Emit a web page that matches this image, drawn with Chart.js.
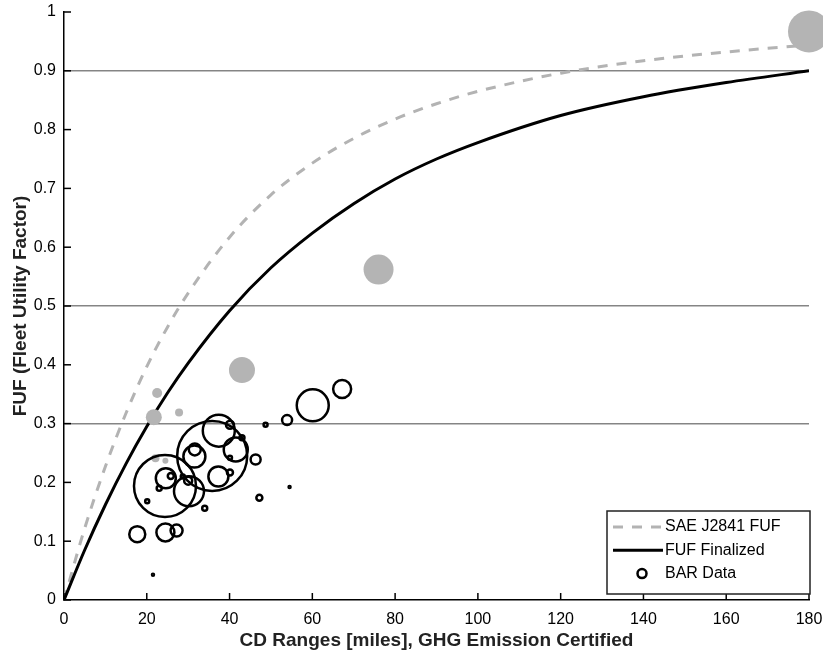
<!DOCTYPE html>
<html lang="en">
<head>
<meta charset="UTF-8">
<script src="https://cdn.jsdelivr.net/npm/chart.js"></script>
<title>FUF vs CD Range</title>
<style>
  body { margin: 0; background: #fff; }
</style>
</head>
<body>
<div style="width: 823px; height: 653px;">
  <canvas id="fufChart" width="823" height="653"></canvas>
</div>
<script>
// curve samples (CD range in miles -> FUF)
const curveMiles = [0, 5, 10, 15, 20, 25, 30, 40, 50, 60, 70, 80, 90, 100, 120, 140, 160, 180];
const saeFuf = [0, 0.122, 0.227, 0.318, 0.397, 0.464, 0.522, 0.617, 0.689, 0.743, 0.785, 0.818, 0.844, 0.865, 0.896, 0.917, 0.932, 0.944];
const finalFuf = [0, 0.085, 0.162, 0.232, 0.295, 0.352, 0.403, 0.492, 0.565, 0.624, 0.674, 0.716, 0.750, 0.778, 0.824, 0.856, 0.880, 0.900];

// BAR data bubbles (open circles)
const barX = [24.4, 35.8, 37.4, 41.5, 31.5, 31.6, 30.2, 24.6, 25.8, 23.0, 20.1, 28.7, 30.0, 37.3, 40.1,
              40.1, 43.0, 40.1, 46.3, 34.0, 47.2, 54.5, 48.7, 53.9, 60.1, 67.2, 17.7, 24.5, 27.2, 21.5];
const barY = [0.194, 0.245, 0.288, 0.256, 0.244, 0.256, 0.185, 0.207, 0.211, 0.190, 0.168, 0.210, 0.203, 0.210, 0.217,
              0.242, 0.276, 0.298, 0.239, 0.156, 0.174, 0.192, 0.298, 0.306, 0.331, 0.359, 0.112, 0.115, 0.118, 0.043];
const barSize = [31, 35, 16, 12, 11, 6, 15, 10, 3, 2.5, 2, 2, 4, 10, 3,
                 2, 2.5, 4, 5, 2.5, 3, 1, 2, 5, 16, 9, 8, 9, 6, 1];

// grey filled bubbles
const greyX = [180, 76, 43, 21.7, 22.5, 27.8, 22.1, 24.5];
const greyY = [0.967, 0.562, 0.391, 0.311, 0.352, 0.319, 0.241, 0.237];
const greySize = [21, 15, 13, 8, 5, 4, 4, 3];

const gridLevels = [0.3, 0.5, 0.9];
const FONT = 'Arial, "Liberation Sans", sans-serif';

const toPts = (xs, ys) => xs.map((x, i) => ({x: x, y: ys[i]}));
const toBubbles = (xs, ys, rs) => xs.map((x, i) => ({x: x, y: ys[i], r: rs[i]}));

// inward tick marks, like the original
const innerTicks = {
    id: 'innerTicks',
    afterDraw(chart) {
        const {ctx, chartArea, scales} = chart;
        ctx.save();
        ctx.strokeStyle = '#000';
        ctx.lineWidth = 1.5;
        scales.x.ticks.forEach(t => {
            const px = scales.x.getPixelForValue(t.value);
            ctx.beginPath();
            ctx.moveTo(px, chartArea.bottom);
            ctx.lineTo(px, chartArea.bottom - 7);
            ctx.stroke();
        });
        scales.y.ticks.forEach(t => {
            const py = scales.y.getPixelForValue(t.value);
            ctx.beginPath();
            ctx.moveTo(chartArea.left, py);
            ctx.lineTo(chartArea.left + 7, py);
            ctx.stroke();
        });
        ctx.restore();
    }
};

// boxed legend in the lower right corner
const boxLegend = {
    id: 'boxLegend',
    afterDraw(chart) {
        const {ctx, chartArea} = chart;
        const ds = chart.data.datasets.filter(d => d.label);
        const x0 = chartArea.right - 202, y0 = chartArea.bottom - 89;
        const w = 203, h = 83;
        ctx.save();
        ctx.fillStyle = '#fff';
        ctx.fillRect(x0, y0, w, h);
        ctx.strokeStyle = '#222';
        ctx.lineWidth = 1.5;
        ctx.strokeRect(x0, y0, w, h);
        ctx.font = '16px ' + FONT;
        ctx.textBaseline = 'middle';
        ds.forEach((d, i) => {
            const cy = y0 + 16 + i * 23.3;
            ctx.strokeStyle = d.borderColor;
            ctx.lineWidth = d.borderWidth;
            if (d.type === 'bubble') {
                ctx.setLineDash([]);
                ctx.beginPath();
                ctx.arc(x0 + 35, cy, 4.5, 0, Math.PI * 2);
                ctx.stroke();
            } else {
                ctx.setLineDash(d.borderDash || []);
                ctx.beginPath();
                ctx.moveTo(x0 + 6, cy);
                ctx.lineTo(x0 + 56, cy);
                ctx.stroke();
            }
            ctx.setLineDash([]);
            ctx.fillStyle = '#000';
            ctx.fillText(d.label, x0 + 58, cy);
        });
        ctx.restore();
    }
};

const ctx = document.getElementById('fufChart').getContext('2d');
new Chart(ctx, {
    data: {
        datasets: [
            {
                type: 'line', label: 'SAE J2841 FUF',
                data: toPts(curveMiles, saeFuf),
                borderColor: '#b3b3b3', borderWidth: 3, borderDash: [10, 9],
                pointRadius: 0, fill: false, cubicInterpolationMode: 'monotone', order: 4
            },
            {
                type: 'line', label: 'FUF Finalized',
                data: toPts(curveMiles, finalFuf),
                borderColor: '#000', borderWidth: 3,
                pointRadius: 0, fill: false, cubicInterpolationMode: 'monotone', order: 3
            },
            {
                type: 'bubble', label: 'BAR Data',
                data: toBubbles(barX, barY, barSize),
                backgroundColor: 'rgba(0,0,0,0)', borderColor: '#000', borderWidth: 2.5, order: 1
            },
            {
                type: 'bubble', label: '',
                data: toBubbles(greyX, greyY, greySize),
                backgroundColor: '#b4b4b4', borderColor: '#b4b4b4', borderWidth: 0, order: 2,
                clip: false
            }
        ]
    },
    options: {
        responsive: false,
        animation: false,
        layout: { autoPadding: false, padding: { top: 12, right: 14, left: 0, bottom: 0 } },
        plugins: {
            legend: { display: false },
            tooltip: { enabled: false }
        },
        scales: {
            x: {
                type: 'linear', min: 0, max: 180,
                ticks: { stepSize: 20, color: '#000', font: { family: FONT, size: 16 }, padding: 10 },
                grid: { drawOnChartArea: false, drawTicks: false },
                border: { color: '#000', width: 1.5 },
                title: {
                    display: true, text: 'CD Ranges [miles], GHG Emission Certified',
                    color: '#222', font: { family: FONT, size: 19, weight: 'bold' },
                    padding: { top: 2, bottom: 1 }
                },
                afterFit(s) { s.height = 53; s.paddingLeft = 0; s.paddingRight = 0; }
            },
            y: {
                type: 'linear', min: 0, max: 1,
                ticks: {
                    stepSize: 0.1, color: '#000', font: { family: FONT, size: 16 }, padding: 8,
                    callback: v => String(Number(v.toFixed(2)))
                },
                grid: {
                    drawTicks: false, lineWidth: 1.5,
                    color: c => gridLevels.some(v => Math.abs(v - c.tick.value) < 1e-6) ? '#858585' : 'rgba(0,0,0,0)'
                },
                border: { color: '#000', width: 1.5 },
                title: {
                    display: true, text: 'FUF (Fleet Utility Factor)',
                    color: '#222', font: { family: FONT, size: 19, weight: 'bold' },
                    padding: { top: 9, bottom: 0 }
                },
                afterFit(s) { s.width = 64; s.paddingTop = 0; s.paddingBottom = 0; }
            }
        }
    },
    plugins: [innerTicks, boxLegend]
});
</script>
</body>
</html>
